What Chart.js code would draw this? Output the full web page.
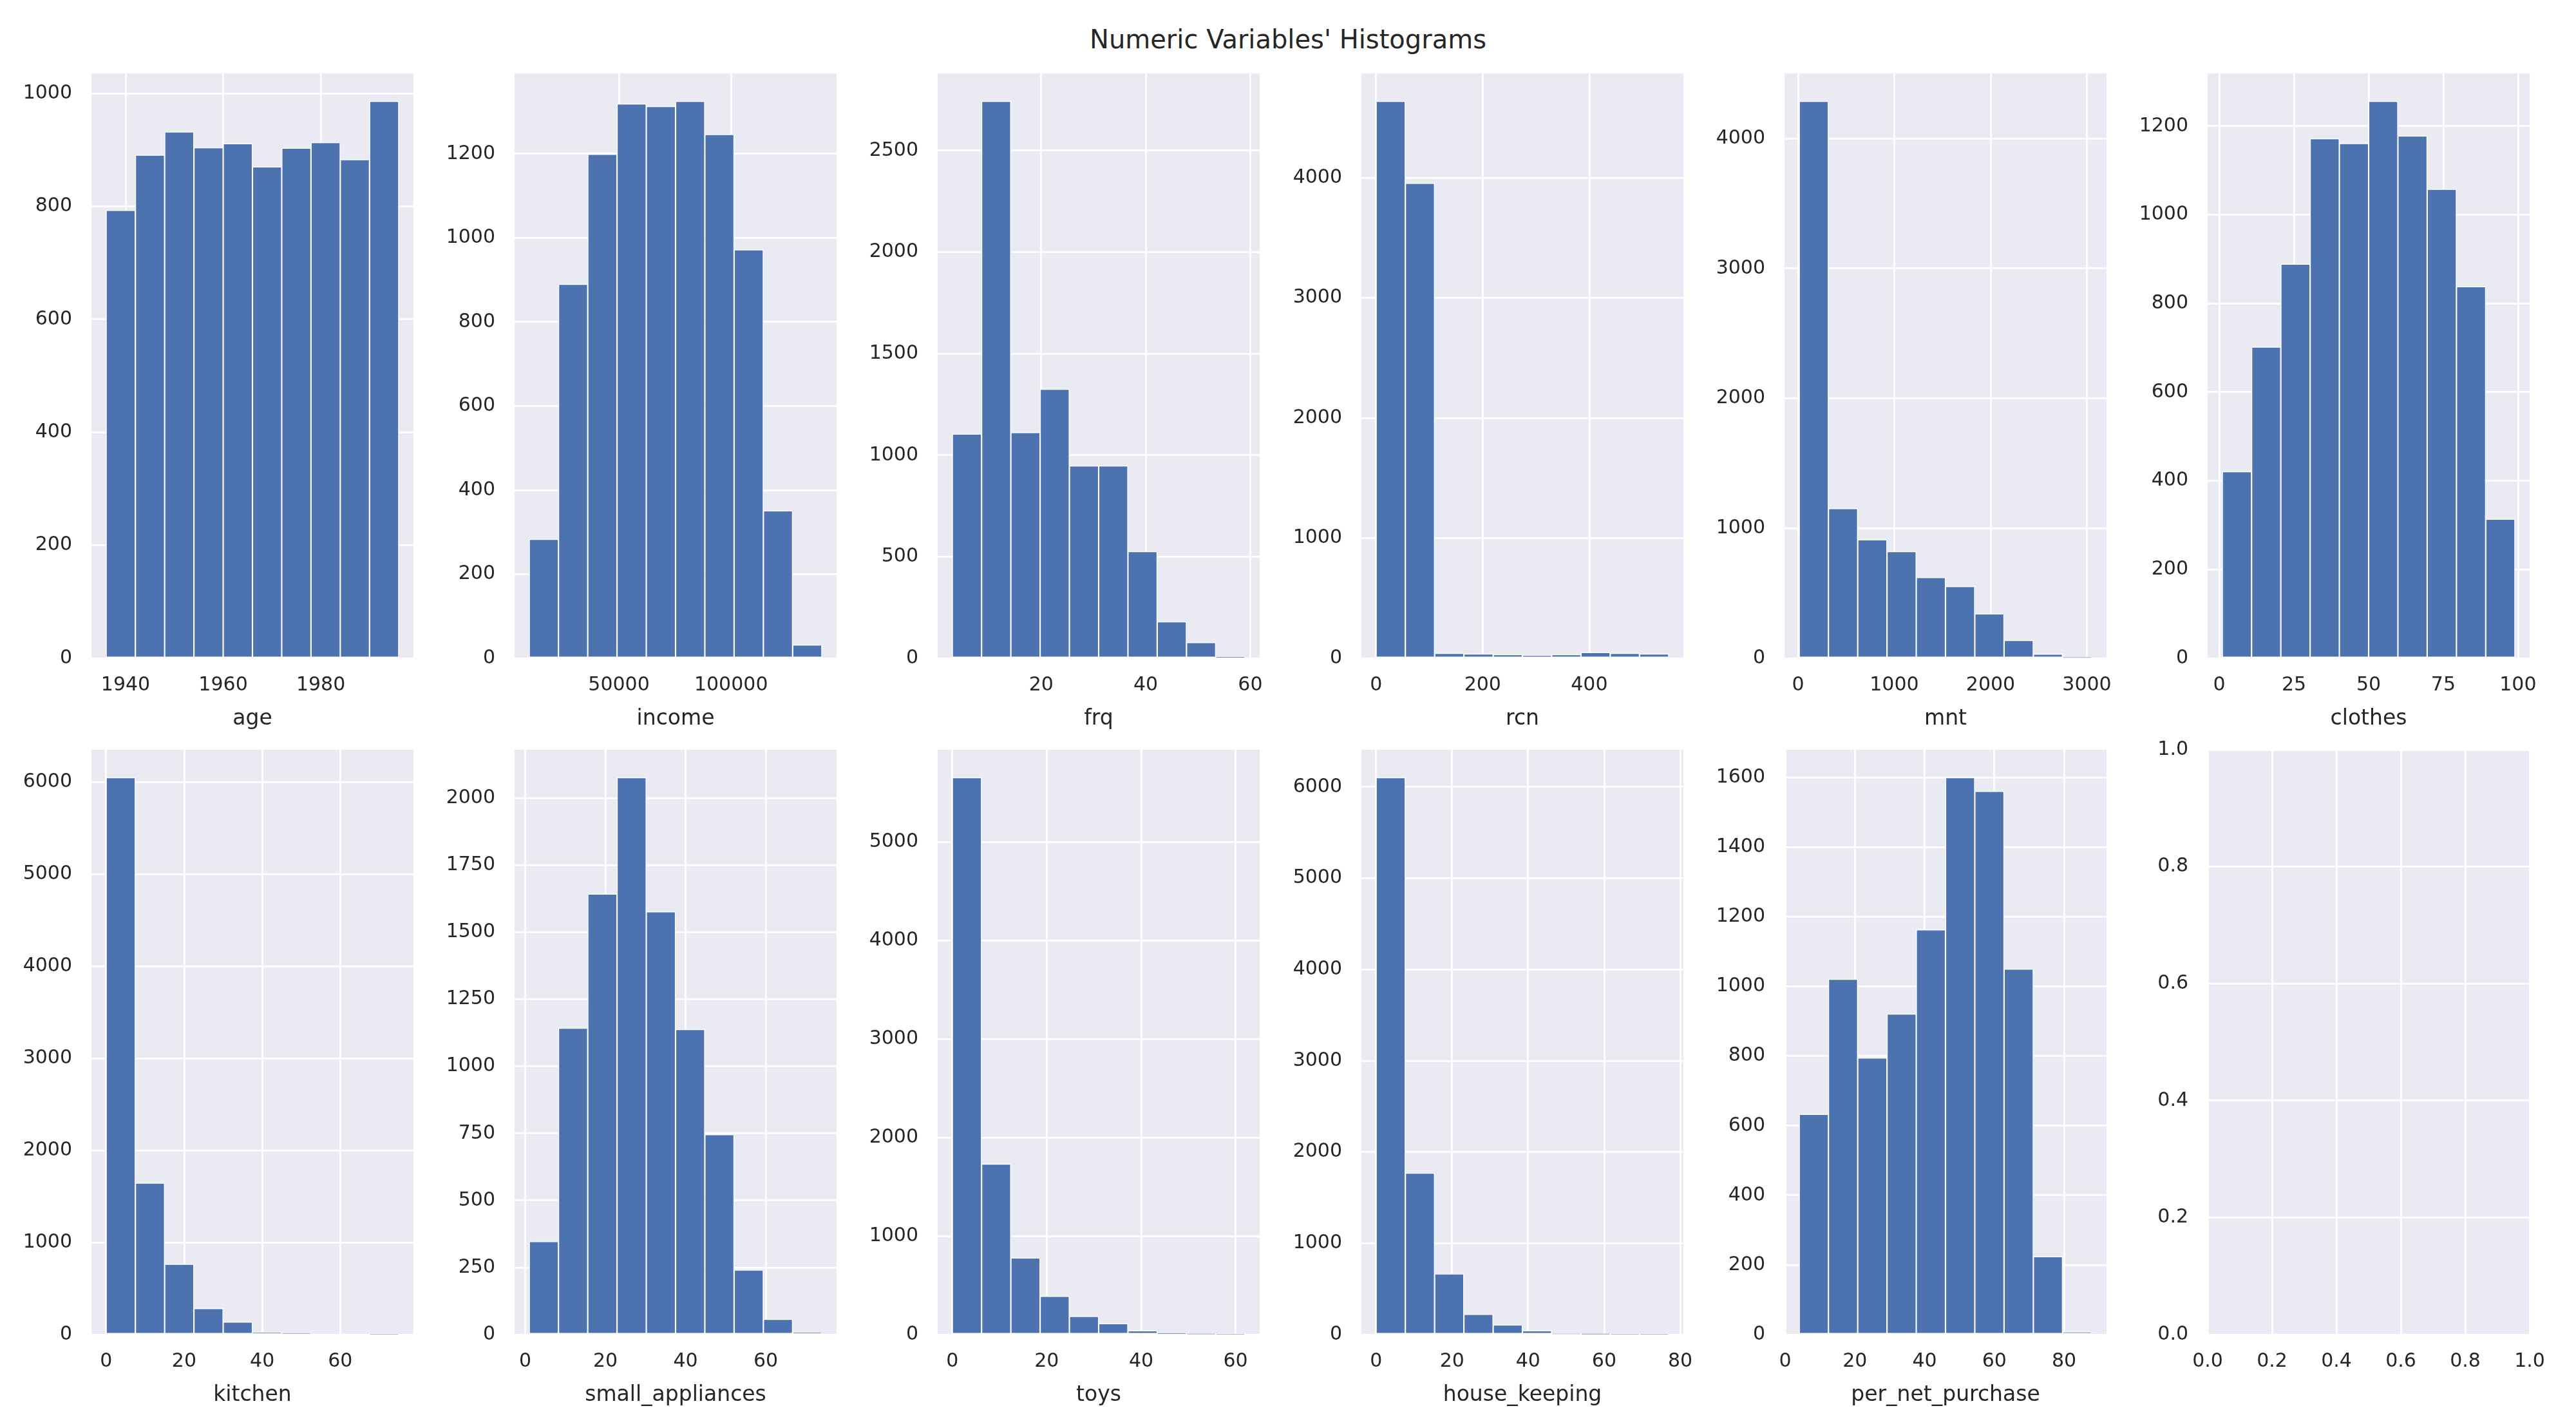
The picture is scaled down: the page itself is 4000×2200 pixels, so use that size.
<!DOCTYPE html>
<html>
<head>
<meta charset="utf-8">
<script src="https://cdn.jsdelivr.net/npm/chart.js@4.4.1/dist/chart.umd.min.js"></script>
<style>
html,body{margin:0;padding:0;background:#ffffff;}
body{width:4000px;height:2200px;position:relative;overflow:hidden;font-family:'DejaVu Sans';}
#title{position:absolute;left:0;top:38px;width:4000px;text-align:center;font-size:40px;line-height:46px;color:#262626;font-family:'DejaVu Sans';}
canvas{position:absolute;}
</style>
</head>
<body>
<div id="title">Numeric Variables' Histograms</div>
<script>
// ---- data ----
const ageBins = [1936, 1996];
const ageCounts = [793, 891, 932, 904, 911, 870, 903, 913, 883, 986];
const ageXTicks = [1940, 1960, 1980];
const ageYTicks = [0, 200, 400, 600, 800, 1000];

const incomeBins = [10000, 140500];
const incomeCounts = [283, 890, 1199, 1319, 1313, 1325, 1246, 972, 351, 32];
const incomeXTicks = [50000, 100000];
const incomeYTicks = [0, 200, 400, 600, 800, 1000, 1200];

const frqBins = [3, 59];
const frqCounts = [1105, 2743, 1112, 1325, 948, 948, 526, 180, 78, 6];
const frqXTicks = [20, 40, 60];
const frqYTicks = [0, 500, 1000, 1500, 2000, 2500];

const rcnBins = [0, 549];
const rcnCounts = [4638, 3956, 42, 37, 31, 26, 31, 49, 42, 37];
const rcnXTicks = [0, 200, 400];
const rcnYTicks = [0, 1000, 2000, 3000, 4000];

const mntBins = [12, 3052];
const mntCounts = [4287, 1153, 913, 822, 622, 553, 342, 138, 33, 4];
const mntXTicks = [0, 1000, 2000, 3000];
const mntYTicks = [0, 1000, 2000, 3000, 4000];

const clothesBins = [1, 99];
const clothesCounts = [421, 702, 889, 1172, 1161, 1256, 1178, 1058, 838, 314];
const clothesXTicks = [0, 25, 50, 75, 100];
const clothesYTicks = [0, 200, 400, 600, 800, 1000, 1200];

const kitchenBins = [0, 75];
const kitchenCounts = [6050, 1647, 765, 284, 137, 27, 11, 0, 0, 1];
const kitchenXTicks = [0, 20, 40, 60];
const kitchenYTicks = [0, 1000, 2000, 3000, 4000, 5000, 6000];

const smallAppliancesBins = [1, 74];
const smallAppliancesCounts = [347, 1143, 1643, 2077, 1577, 1138, 746, 241, 57, 8];
const smallAppliancesXTicks = [0, 20, 40, 60];
const smallAppliancesYTicks = [0, 250, 500, 750, 1000, 1250, 1500, 1750, 2000];

const toysBins = [0, 62];
const toysCounts = [5655, 1732, 779, 390, 185, 112, 40, 13, 3, 1];
const toysXTicks = [0, 20, 40, 60];
const toysYTicks = [0, 1000, 2000, 3000, 4000, 5000];

const houseKeepingBins = [0, 77];
const houseKeepingCounts = [6103, 1771, 665, 222, 106, 42, 4, 3, 1, 1];
const houseKeepingXTicks = [0, 20, 40, 60, 80];
const houseKeepingYTicks = [0, 1000, 2000, 3000, 4000, 5000, 6000];

const perNetPurchaseBins = [4, 88];
const perNetPurchaseCounts = [633, 1021, 795, 921, 1163, 1600, 1561, 1050, 224, 8];
const perNetPurchaseXTicks = [0, 20, 40, 60, 80];
const perNetPurchaseYTicks = [0, 200, 400, 600, 800, 1000, 1200, 1400, 1600];

const emptyTicks = [0, 0.2, 0.4, 0.6, 0.8, 1.0];

const panelNames = ['age', 'income', 'frq', 'rcn', 'mnt', 'clothes',
  'kitchen', 'small_appliances', 'toys', 'house_keeping', 'per_net_purchase'];
const panelBins = [ageBins, incomeBins, frqBins, rcnBins, mntBins, clothesBins,
  kitchenBins, smallAppliancesBins, toysBins, houseKeepingBins, perNetPurchaseBins];
const panelCounts = [ageCounts, incomeCounts, frqCounts, rcnCounts, mntCounts, clothesCounts,
  kitchenCounts, smallAppliancesCounts, toysCounts, houseKeepingCounts, perNetPurchaseCounts];
const panelXTicks = [ageXTicks, incomeXTicks, frqXTicks, rcnXTicks, mntXTicks, clothesXTicks,
  kitchenXTicks, smallAppliancesXTicks, toysXTicks, houseKeepingXTicks, perNetPurchaseXTicks];
const panelYTicks = [ageYTicks, incomeYTicks, frqYTicks, rcnYTicks, mntYTicks, clothesYTicks,
  kitchenYTicks, smallAppliancesYTicks, toysYTicks, houseKeepingYTicks, perNetPurchaseYTicks];

// ---- layout / style ----
const AX_LEFT = [142, 799, 1456, 2114, 2771, 3428];
const AX_TOP = [114, 1164];
const AX_W = 500, AX_H = 908;
const PAD_L = 150, PAD_T = 30, PAD_R = 40, SCALE_B = 118;
const BAR_COLOR = '#4C72B0';
const FACE = '#EAEAF2';
const TEXT = '#262626';
const FONT = 'DejaVu Sans';

Chart.defaults.font.family = FONT;

const bgPlugin = {
  id: 'axesFace',
  beforeDraw(chart) {
    const a = chart.chartArea, ctx = chart.ctx;
    ctx.save();
    ctx.fillStyle = FACE;
    ctx.fillRect(a.left, a.top, a.right - a.left, a.bottom - a.top);
    ctx.restore();
  }
};

function makeCanvas(idx) {
  const r = Math.floor(idx / 6), c = idx % 6;
  const cv = document.createElement('canvas');
  const w = PAD_L + AX_W + PAD_R, h = PAD_T + AX_H + SCALE_B;
  cv.width = w; cv.height = h;
  cv.style.width = w + 'px'; cv.style.height = h + 'px';
  cv.style.left = (AX_LEFT[c] - PAD_L) + 'px';
  cv.style.top = (AX_TOP[r] - PAD_T) + 'px';
  document.body.appendChild(cv);
  return cv;
}

function zeroPadding(s) {
  s.paddingTop = 0; s.paddingBottom = 0; s.paddingLeft = 0; s.paddingRight = 0;
}

function axisOpts(min, max, ticks, fmt, titleText, isX) {
  const o = {
    type: 'linear', min: min, max: max, offset: false,
    grid: { color: '#ffffff', lineWidth: 2.8, drawTicks: false, offset: false },
    border: { display: false },
    ticks: {
      color: TEXT, font: { family: FONT, size: 30 }, padding: isX ? 24 : 30,
      autoSkip: false, maxRotation: 0, minRotation: 0, callback: fmt
    },
    afterBuildTicks: (s) => { s.ticks = ticks.map(v => ({ value: v })); }
  };
  if (isX) {
    o.title = { display: !!titleText, text: titleText, color: TEXT,
      font: { family: FONT, size: 33 }, padding: { top: 0, bottom: 4 } };
    o.afterFit = (s) => { s.height = SCALE_B; zeroPadding(s); };
  } else {
    o.afterFit = (s) => { s.width = PAD_L; zeroPadding(s); };
  }
  return o;
}

const baseOptions = () => ({
  responsive: false, animation: false, devicePixelRatio: 1,
  layout: { padding: { left: 0, top: PAD_T, right: PAD_R, bottom: 0 } },
  plugins: { legend: { display: false }, tooltip: { enabled: false }, title: { display: false } }
});

panelNames.forEach((name, i) => {
  const lo = panelBins[i][0], hi = panelBins[i][1];
  const counts = panelCounts[i];
  const n = counts.length;
  const bw = (hi - lo) / n;
  const pts = counts.map((v, k) => ({ x: lo + bw * (k + 0.5), y: v }));
  const margin = 0.05 * (hi - lo);
  const ymax = 1.05 * Math.max(...counts);
  const opts = baseOptions();
  opts.scales = {
    x: axisOpts(lo - margin, hi + margin, panelXTicks[i], (v) => String(v), name, true),
    y: axisOpts(0, ymax, panelYTicks[i], (v) => String(v), '', false)
  };
  new Chart(makeCanvas(i), {
    type: 'bar',
    data: { datasets: [{
      data: pts, backgroundColor: BAR_COLOR, borderColor: '#ffffff', borderWidth: 1.4,
      borderSkipped: false, barPercentage: 1, categoryPercentage: 1, barThickness: 'flex'
    }] },
    options: opts,
    plugins: [bgPlugin]
  });
});

// empty 12th axes
(function () {
  const opts = baseOptions();
  opts.scales = {
    x: axisOpts(0, 1, emptyTicks, (v) => Number(v).toFixed(1), '', true),
    y: axisOpts(0, 1, emptyTicks, (v) => Number(v).toFixed(1), '', false)
  };
  new Chart(makeCanvas(11), {
    type: 'scatter',
    data: { datasets: [{ data: [] }] },
    options: opts,
    plugins: [bgPlugin]
  });
})();
</script>
</body>
</html>
